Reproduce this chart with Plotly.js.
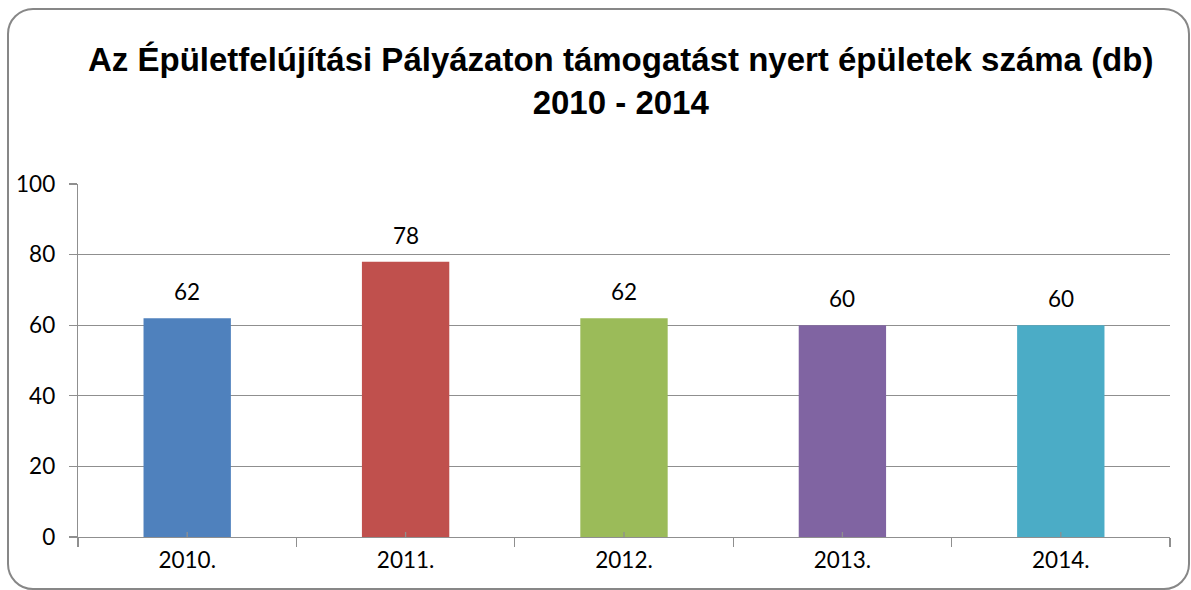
<!DOCTYPE html>
<html><head><meta charset="utf-8">
<script src="https://cdn.plot.ly/plotly-3.0.1.min.js"></script>
<style>
html,body{margin:0;padding:0;background:#fff;overflow:hidden;}
#frame{position:absolute;left:7px;top:8px;width:1183px;height:582px;border:2px solid #878787;border-radius:26px;box-sizing:border-box;}
#chart{position:absolute;left:0;top:0;width:1191px;height:590px;}
</style></head>
<body>
<div id="frame"></div>
<div id="chart"></div>
<script>
const categories = ["2010.", "2011.", "2012.", "2013.", "2014."];
const values = [62, 78, 62, 60, 60];
const barColors = ["#4F81BD", "#C0504D", "#9BBB59", "#8064A2", "#4BACC6"];
const yTicks = [0, 20, 40, 60, 80, 100];
const titleText = "Az Épületfelújítási Pályázaton támogatást nyert épületek száma (db)<br>2010 - 2014";

const axisGray = "#8f8f8f";
const labelFont = {family: "Lato, 'Open Sans', sans-serif", size: 22.5, color: "#000"};

const trace = {
  type: "bar",
  x: categories,
  y: values,
  width: 0.4,
  marker: {color: barColors},
  textposition: "none",
  hoverinfo: "x+y"
};

const annotations = categories.map((c, i) => ({
  x: i, y: values[i], xref: "x", yref: "y",
  text: String(values[i]), showarrow: false,
  yanchor: "bottom", yshift: 11,
  font: labelFont
}));

const centerTicks = categories.map((c, i) => ({
  type: "line", xref: "x", yref: "y", layer: "above",
  x0: i, x1: i, ysizemode: "pixel", yanchor: 0, y0: -9, y1: 5,
  line: {color: axisGray, width: 1.3}
}));

const layout = {
  width: 1191, height: 590,
  paper_bgcolor: "rgba(0,0,0,0)",
  plot_bgcolor: "rgba(0,0,0,0)",
  margin: {l: 78, r: 21, t: 184, b: 53},
  title: {
    text: titleText,
    x: 0.497, xanchor: "center", xref: "paper",
    y: 0.88, yanchor: "middle", yref: "container",
    font: {family: "'Liberation Sans', Arial, sans-serif", size: 33, color: "#000", weight: "bold"}
  },
  showlegend: false,
  xaxis: {
    type: "category",
    range: [-0.5, categories.length - 0.5],
    autorange: false,
    showline: true, linecolor: axisGray, linewidth: 1.3,
    ticks: "outside", tickson: "boundaries", ticklen: 9, tickcolor: axisGray, tickwidth: 1.3,
    showgrid: false,
    tickfont: labelFont,
    ticklabelstandoff: 3
  },
  yaxis: {
    range: [0, 100],
    autorange: false,
    tickvals: yTicks,
    showline: true, linecolor: axisGray, linewidth: 1.3,
    ticks: "outside", ticklen: 8, tickcolor: axisGray, tickwidth: 1.3,
    showgrid: true, gridcolor: axisGray, gridwidth: 1.3,
    zeroline: false,
    tickfont: labelFont,
    ticklabelstandoff: 9
  },
  annotations: annotations,
  shapes: centerTicks
};

Plotly.newPlot("chart", [trace], layout, {displayModeBar: false, staticPlot: true});
</script>
</body></html>
